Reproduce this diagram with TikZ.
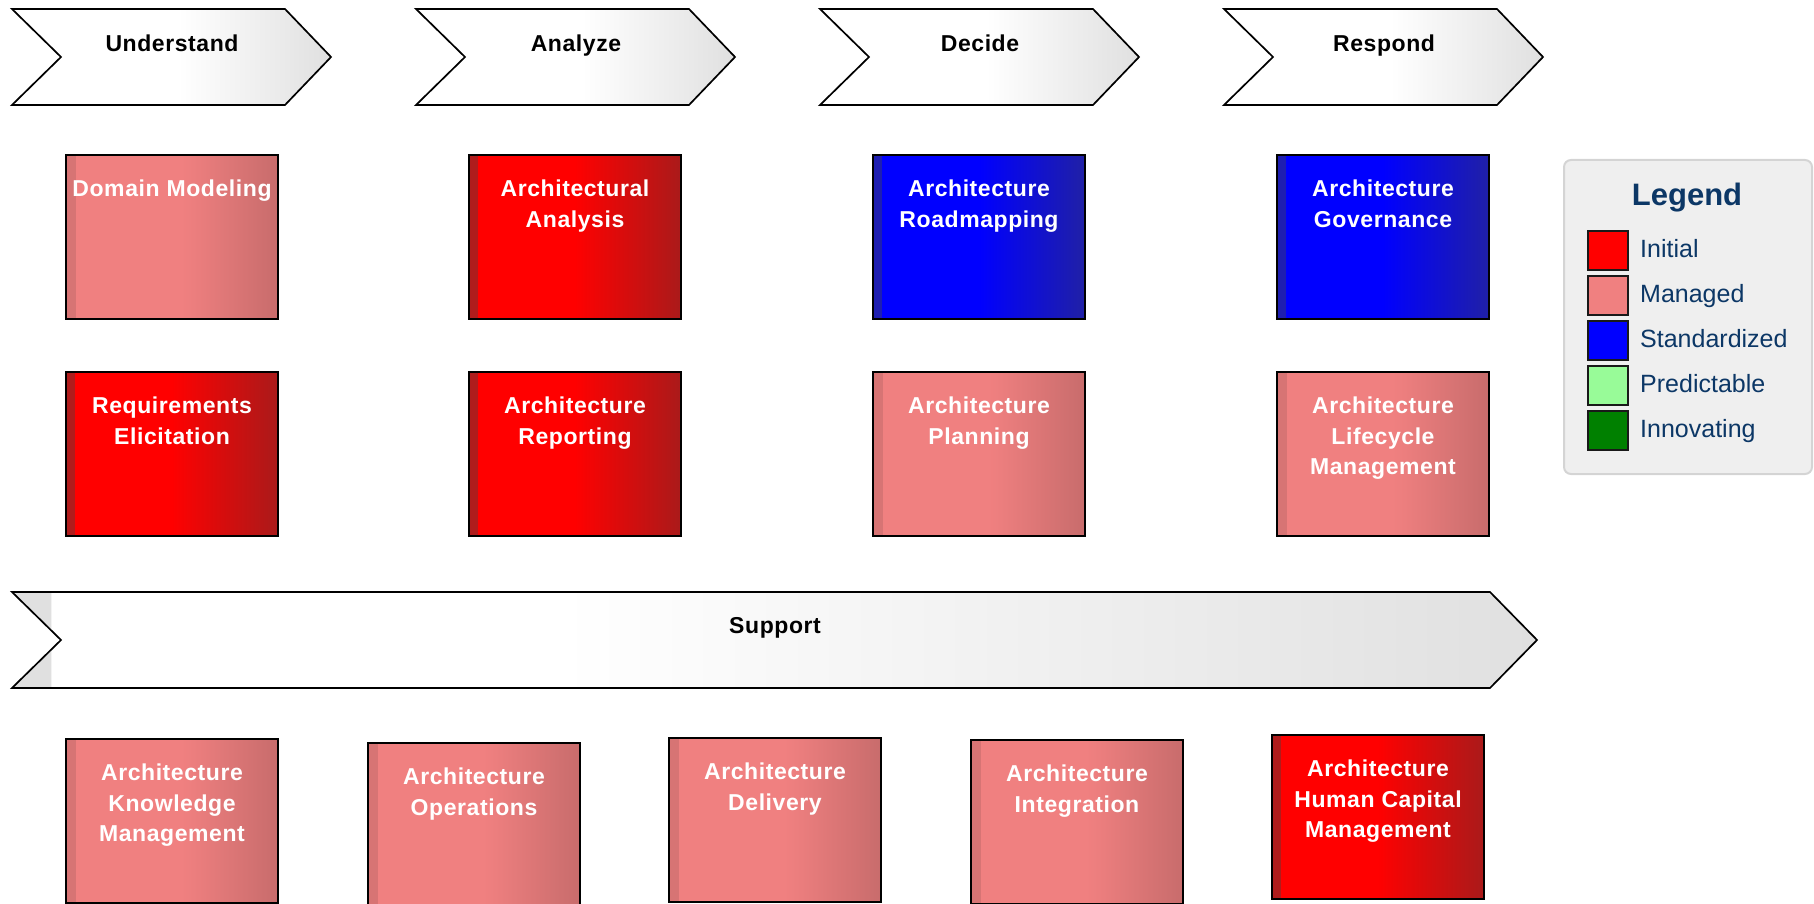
\documentclass[tikz,border=0pt]{standalone}
\usepackage{fontspec}
\setmainfont{Liberation Sans}
\newfontfamily\spacedfont{Liberation Sans}[LetterSpace=2.5]

% maturity level colours
\definecolor{iniMain}{HTML}{FF0000}
\definecolor{iniStrip}{HTML}{B01C1C}
\definecolor{iniMid}{HTML}{F40404}
\definecolor{iniDark}{HTML}{AA1A1A}
\definecolor{manMain}{HTML}{F08080}
\definecolor{manStrip}{HTML}{D77474}
\definecolor{manMid}{HTML}{EC7E7E}
\definecolor{manDark}{HTML}{C86C6C}
\definecolor{stdMain}{HTML}{0000FF}
\definecolor{stdStrip}{HTML}{1E1EB0}
\definecolor{stdMid}{HTML}{0404F4}
\definecolor{stdDark}{HTML}{2020A6}
\definecolor{preMain}{HTML}{98FB98}
\definecolor{innMain}{HTML}{008000}
\definecolor{chevGrey}{HTML}{E0E0E0}
\definecolor{legendFill}{HTML}{EFEFEF}
\definecolor{legendLine}{HTML}{D4D4D4}
\definecolor{legendText}{HTML}{0C3766}

% box fills: darker left strip, flat body, darker right end
\pgfdeclarehorizontalshading{initfill}{100bp}{color(0bp)=(iniStrip); color(25bp)=(iniStrip); color(26.9bp)=(iniStrip); color(27bp)=(iniMain); color(50bp)=(iniMain); color(53bp)=(iniMid); color(75bp)=(iniDark); color(100bp)=(iniDark)}
\pgfdeclarehorizontalshading{managedfill}{100bp}{color(0bp)=(manStrip); color(25bp)=(manStrip); color(27.2bp)=(manStrip); color(27.3bp)=(manMain); color(52bp)=(manMain); color(55bp)=(manMid); color(75bp)=(manDark); color(100bp)=(manDark)}
\pgfdeclarehorizontalshading{stdfill}{100bp}{color(0bp)=(stdStrip); color(25bp)=(stdStrip); color(26.9bp)=(stdStrip); color(27bp)=(stdMain); color(50bp)=(stdMain); color(53bp)=(stdMid); color(75bp)=(stdDark); color(100bp)=(stdDark)}
% phase arrows
\pgfdeclarehorizontalshading{chevfill}{100bp}{color(0bp)=(white); color(51bp)=(white); color(75bp)=(chevGrey); color(100bp)=(chevGrey)}
\pgfdeclarehorizontalshading{supportfill}{100bp}{color(0bp)=(chevGrey); color(25bp)=(chevGrey); color(26.25bp)=(chevGrey); color(26.3bp)=(white); color(43bp)=(white); color(75bp)=(chevGrey); color(100bp)=(chevGrey)}

\begin{document}
\begin{tikzpicture}[x=1pt,y=-1pt,
  chev/.style={draw=black, line width=1.7pt, line join=miter, shade, shading=chevfill},
  chevtext/.style={anchor=base, inner sep=0pt, font=\spacedfont\fontsize{23pt}{28pt}\selectfont\bfseries, text=black},
  capbox/.style={draw=black, line width=2pt, shade, minimum width=212pt, minimum height=164pt, inner sep=0pt, anchor=north west},
  initial/.style={capbox, shading=initfill},
  managed/.style={capbox, shading=managedfill},
  standard/.style={capbox, shading=stdfill},
  captext/.style={anchor=north, yshift=-26pt, inner sep=0pt, align=center, text=white, font=\spacedfont\fontsize{23pt}{30.5pt}\selectfont\bfseries},
  swatch/.style={draw=black!90, line width=2pt, minimum width=40pt, minimum height=39pt, inner sep=0pt, anchor=north west},
  legitem/.style={anchor=base west, inner sep=0pt, text=legendText, font=\fontsize{25pt}{30pt}\selectfont}
]
\useasboundingbox (0,0) rectangle (1814,904);

% ---- phase arrows ----
\path[chev] (12,9) -- (285,9) -- (331,57) -- (285,105) -- (12,105) -- (61,57) -- cycle;
\node[chevtext] (understand) at (172,52) {Understand};
\path[chev] (416,9) -- (689,9) -- (735,57) -- (689,105) -- (416,105) -- (465,57) -- cycle;
\node[chevtext] (analyze) at (576,52) {Analyze};
\path[chev] (820,9) -- (1093,9) -- (1139,57) -- (1093,105) -- (820,105) -- (869,57) -- cycle;
\node[chevtext] (decide) at (980,52) {Decide};
\path[chev] (1224,9) -- (1497,9) -- (1543,57) -- (1497,105) -- (1224,105) -- (1273,57) -- cycle;
\node[chevtext] (respond) at (1384,52) {Respond};

\path[chev, shading=supportfill] (12,592) -- (1490,592) -- (1537,640) -- (1490,688) -- (12,688) -- (61,640) -- cycle;
\node[chevtext] (support) at (775,633) {Support};

% ---- first row ----
\node[managed] (dm) at (65,154) {};
\node[captext] at (dm.north) {Domain Modeling};
\node[initial] (aa) at (468,154) {};
\node[captext] at (aa.north) {Architectural\\Analysis};
\node[standard] (arm) at (872,154) {};
\node[captext] at (arm.north) {Architecture\\Roadmapping};
\node[standard] (ag) at (1276,154) {};
\node[captext] at (ag.north) {Architecture\\Governance};

% ---- second row ----
\node[initial] (re) at (65,371) {};
\node[captext] at (re.north) {Requirements\\Elicitation};
\node[initial] (arp) at (468,371) {};
\node[captext] at (arp.north) {Architecture\\Reporting};
\node[managed] (ap) at (872,371) {};
\node[captext] at (ap.north) {Architecture\\Planning};
\node[managed] (alm) at (1276,371) {};
\node[captext] at (alm.north) {Architecture\\Lifecycle\\Management};

% ---- support row ----
\node[managed] (akm) at (65,738) {};
\node[captext] at (akm.north) {Architecture\\Knowledge\\Management};
\node[managed] (ao) at (367,742) {};
\node[captext] at (ao.north) {Architecture\\Operations};
\node[managed] (ad) at (668,737) {};
\node[captext] at (ad.north) {Architecture\\Delivery};
\node[managed] (ai) at (970,739) {};
\node[captext] at (ai.north) {Architecture\\Integration};
\node[initial] (ahc) at (1271,734) {};
\node[captext] at (ahc.north) {Architecture\\Human Capital\\Management};

% ---- legend ----
\node[draw=legendLine, fill=legendFill, line width=2pt, rounded corners=7pt,
      minimum width=248pt, minimum height=314pt, anchor=north west] (legend) at (1563,159) {};
\node[anchor=base, inner sep=0pt, text=legendText, font=\fontsize{31pt}{36pt}\selectfont\bfseries] (legtitle) at (1687,205) {Legend};
\node[swatch, fill=iniMain] (s1) at (1587,230) {};
\node[legitem] (l1) at (1640,257.5) {Initial};
\node[swatch, fill=manMain] (s2) at (1587,275) {};
\node[legitem] (l2) at (1640,302.5) {Managed};
\node[swatch, fill=stdMain] (s3) at (1587,320) {};
\node[legitem] (l3) at (1640,347.5) {Standardized};
\node[swatch, fill=preMain] (s4) at (1587,365) {};
\node[legitem] (l4) at (1640,392.5) {Predictable};
\node[swatch, fill=innMain] (s5) at (1587,410) {};
\node[legitem] (l5) at (1640,437.5) {Innovating};
\end{tikzpicture}
\end{document}
